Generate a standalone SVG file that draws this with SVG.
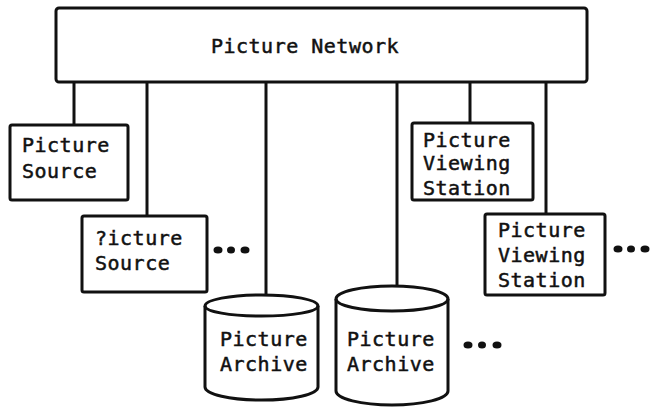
<svg xmlns="http://www.w3.org/2000/svg" width="650" height="408" viewBox="0 0 650 408">
<style>
.box{fill:#fff;stroke:#111;stroke-width:3}
.ln{stroke:#111;stroke-width:3;fill:none}
text{font-family:"DejaVu Sans Mono","Liberation Mono",monospace;font-size:20px;fill:#111;stroke:#111;stroke-width:0.5;letter-spacing:0.5px}
.dot{fill:#111}
</style>
<rect width="650" height="408" fill="#fff"/>
<g id="connectors">
<line class="ln" x1="74" y1="82" x2="74" y2="125"/>
<line class="ln" x1="147" y1="82" x2="147" y2="216"/>
<line class="ln" x1="266" y1="82" x2="266" y2="295"/>
<line class="ln" x1="397" y1="82" x2="397" y2="286"/>
<line class="ln" x1="470" y1="82" x2="470" y2="123"/>
<line class="ln" x1="546" y1="82" x2="546" y2="214"/>
</g>
<g id="network">
<rect class="box" x="56" y="8" width="531" height="74" rx="3"/>
<text x="305" y="53" text-anchor="middle">Picture Network</text>
</g>
<g id="source1">
<rect class="box" x="10" y="125" width="118" height="75" rx="2"/>
<text x="22" y="152">Picture</text>
<text x="22" y="178">Source</text>
</g>
<g id="source2">
<rect class="box" x="82" y="216" width="125" height="76" rx="2"/>
<text x="95" y="245">?icture</text>
<text x="95" y="270">Source</text>
<ellipse class="dot" cx="218" cy="250" rx="4.5" ry="3.5"/>
<ellipse class="dot" cx="231" cy="250" rx="4" ry="3.5"/>
<ellipse class="dot" cx="245" cy="250" rx="4.5" ry="3.5"/>
</g>
<g id="viewing1">
<rect class="box" x="412" y="123" width="121" height="77" rx="2"/>
<text x="423" y="147">Picture</text>
<text x="423" y="170">Viewing</text>
<text x="423" y="195">Station</text>
</g>
<g id="viewing2">
<rect class="box" x="485" y="214" width="120" height="81" rx="2"/>
<text x="498" y="237">Picture</text>
<text x="498" y="262">Viewing</text>
<text x="498" y="287">Station</text>
<ellipse class="dot" cx="618" cy="249" rx="4.5" ry="3.5"/>
<ellipse class="dot" cx="631" cy="249" rx="4" ry="3.5"/>
<ellipse class="dot" cx="645" cy="249" rx="4.5" ry="3.5"/>
</g>
<g id="archive1">
<path class="box" d="M205,306 A56,11 0 0 1 318,306 L318,387 A56,13 0 0 1 205,387 Z"/>
<path class="ln" d="M205,306 A56,10 0 0 0 318,306"/>
<text x="220" y="346">Picture</text>
<text x="220" y="371">Archive</text>
</g>
<g id="archive2">
<path class="box" d="M336,299 A56,13 0 0 1 448,299 L448,391 A56,14 0 0 1 336,391 Z"/>
<path class="ln" d="M336,299 A56,12 0 0 0 448,299"/>
<text x="347" y="346">Picture</text>
<text x="347" y="371">Archive</text>
<ellipse class="dot" cx="468" cy="345" rx="4.5" ry="3.5"/>
<ellipse class="dot" cx="482" cy="345" rx="4" ry="3.5"/>
<ellipse class="dot" cx="497" cy="345" rx="4.5" ry="3.5"/>
</g>
</svg>
